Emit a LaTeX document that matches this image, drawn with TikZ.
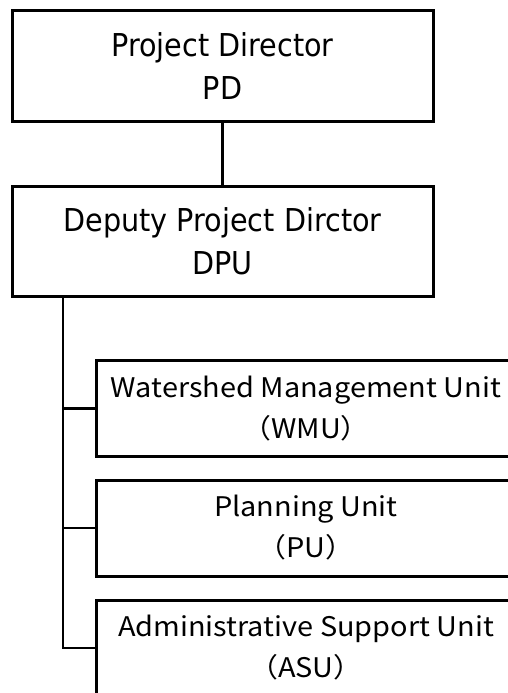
\documentclass[tikz,border=0pt]{standalone}
\usepackage{fontspec}
\newfontfamily\headfont[FakeStretch=0.91]{DejaVu Sans}
\newfontfamily\unitfont[FakeStretch=1.07]{Noto Sans CJK JP}
\begin{document}
\begin{tikzpicture}[x=1pt,y=-1pt,
  line width=2.6pt,
  headbox/.style={draw, line width=3pt, minimum width=421pt, minimum height=110pt,
    inner sep=0pt, align=center, font=\headfont\fontsize{31.5}{43}\selectfont},
  unitbox/.style={draw, line width=3pt, minimum width=420pt, minimum height=96pt,
    inner sep=0pt, align=center, font=\unitfont\fontsize{27}{41}\selectfont}]
  \useasboundingbox (0,0) rectangle (508,693);
  \clip (0,0) rectangle (508,693);

  % top of the hierarchy
  \node[headbox] (PD)  at (222.5,66)  {Project Director\\PD};
  \node[headbox] (DPU) at (222.5,241) {Deputy Project Dirctor\\DPU};

  % units under the deputy
  \node[unitbox] (WMU) at (306,408.5) {Watershed Management Unit\\（WMU）};
  \node[unitbox] (PU)  at (306,528)   {Planning Unit\\（PU）};
  \node[unitbox] (ASU) at (306,648)   {Administrative Support Unit\\（ASU）};

  % connectors
  \coordinate (tx) at (63,0);
  \draw (PD.south) -- (DPU.north);
  \draw (DPU.south -| tx) -- (tx |- ASU.west) -- (ASU.west);
  \draw (tx |- WMU.west) -- (WMU.west);
  \draw (tx |- PU.west) -- (PU.west);
\end{tikzpicture}
\end{document}
